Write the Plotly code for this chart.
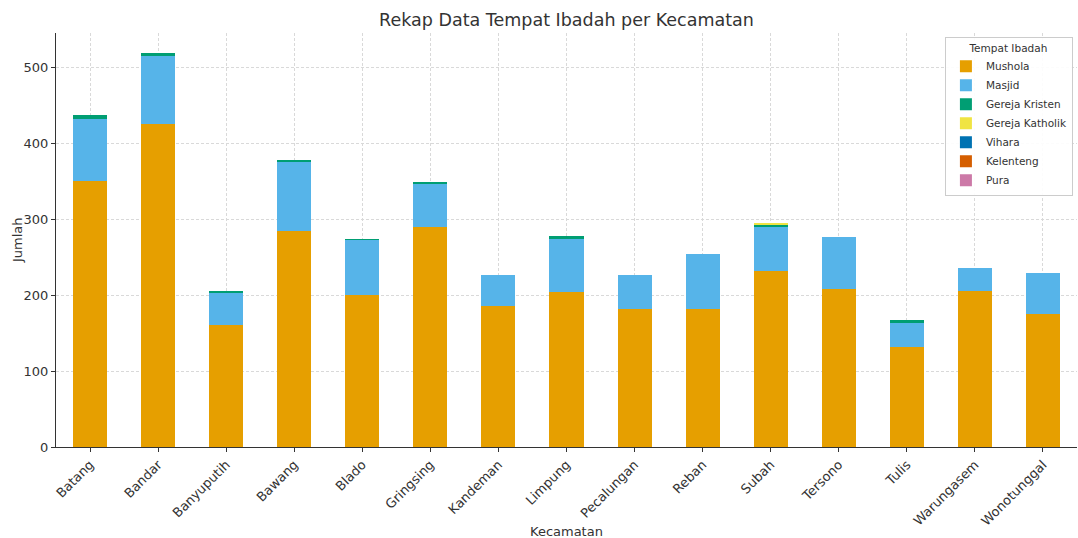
import plotly.graph_objects as go

kecamatan = ["Batang", "Bandar", "Banyuputih", "Bawang", "Blado", "Gringsing", "Kandeman",
             "Limpung", "Pecalungan", "Reban", "Subah", "Tersono", "Tulis", "Warungasem", "Wonotunggal"]
mushola = [351, 426, 161, 285, 200, 290, 186, 204, 182, 182, 232, 209, 132, 206, 176]
masjid = [82, 90, 43, 91, 73, 57, 41, 70, 45, 72, 58, 68, 32, 30, 54]
gereja_kristen = [5, 4, 1, 2, 1, 2, 0, 4, 0, 0, 4, 0, 3, 0, 0]
gereja_katholik = [0, 0, 0, 0, 0, 0, 0, 0, 0, 0, 2, 0, 0, 0, 0]
vihara = [0] * 15
kelenteng = [0] * 15
pura = [0] * 15

series = [
    ("Mushola", mushola, "#E69F00"),
    ("Masjid", masjid, "#56B4E9"),
    ("Gereja Kristen", gereja_kristen, "#009E73"),
    ("Gereja Katholik", gereja_katholik, "#F0E442"),
    ("Vihara", vihara, "#0072B2"),
    ("Kelenteng", kelenteng, "#D55E00"),
    ("Pura", pura, "#CC79A7"),
]

fig = go.Figure()
for name, vals, color in series:
    fig.add_trace(go.Bar(x=kecamatan, y=vals, name=name, marker=dict(color=color, line=dict(width=0))))

font = "DejaVu Sans"
W, H = 1078, 538
ML, MR, MT, MB = 56, 1, 33, 91
fig.update_layout(
    barmode="stack",
    bargap=0.5,
    width=W, height=H,
    margin=dict(l=ML, r=MR, t=MT, b=MB, autoexpand=False),
    paper_bgcolor="white", plot_bgcolor="white",
    font=dict(family=font, size=12, color="#333333"),
    title=dict(text="Rekap Data Tempat Ibadah per Kecamatan", xref="paper", x=0.5, xanchor="center",
               y=1 - 20 / H, yanchor="middle", font=dict(size=17.5, color="#333333")),
    legend=dict(title=dict(text="Tempat Ibadah", side="top center", font=dict(size=10.5)),
                x=0.996, y=0.99, xanchor="right", yanchor="top",
                bgcolor="rgba(255,255,255,0.9)", bordercolor="#cccccc", borderwidth=1,
                font=dict(size=10.5), traceorder="normal", tracegroupgap=0),
    xaxis=dict(tickangle=-45, tickfont=dict(size=13), automargin=False,
               showgrid=True, gridcolor="#d9d9d9", griddash="3px,2px", gridwidth=0.8,
               showline=True, linecolor="#333333", linewidth=1,
               ticks="outside", ticklen=4, tickcolor="#333333",
               range=[-0.5, 14.5]),
    yaxis=dict(tickfont=dict(size=13), range=[0, 546], dtick=100, automargin=False,
               showgrid=True, gridcolor="#d9d9d9", griddash="3px,2px", gridwidth=0.8,
               showline=True, linecolor="#333333", linewidth=1,
               ticks="outside", ticklen=4, tickcolor="#333333", zeroline=False),
    annotations=[
        dict(text="Kecamatan", xref="paper", yref="paper", x=0.5, y=-(531 - (H - MB)) / (H - MT - MB),
             xanchor="center", yanchor="middle", showarrow=False, font=dict(size=13, color="#333333")),
        dict(text="Jumlah", xref="paper", yref="paper", x=-(56 - 17) / (W - ML - MR), y=0.5,
             xanchor="center", yanchor="middle", textangle=-90, showarrow=False,
             font=dict(size=13, color="#333333")),
    ],
)

fig.write_html("out.html", config={"displayModeBar": False},
               post_script="document.body.style.margin='0';document.body.style.overflow='hidden';")
